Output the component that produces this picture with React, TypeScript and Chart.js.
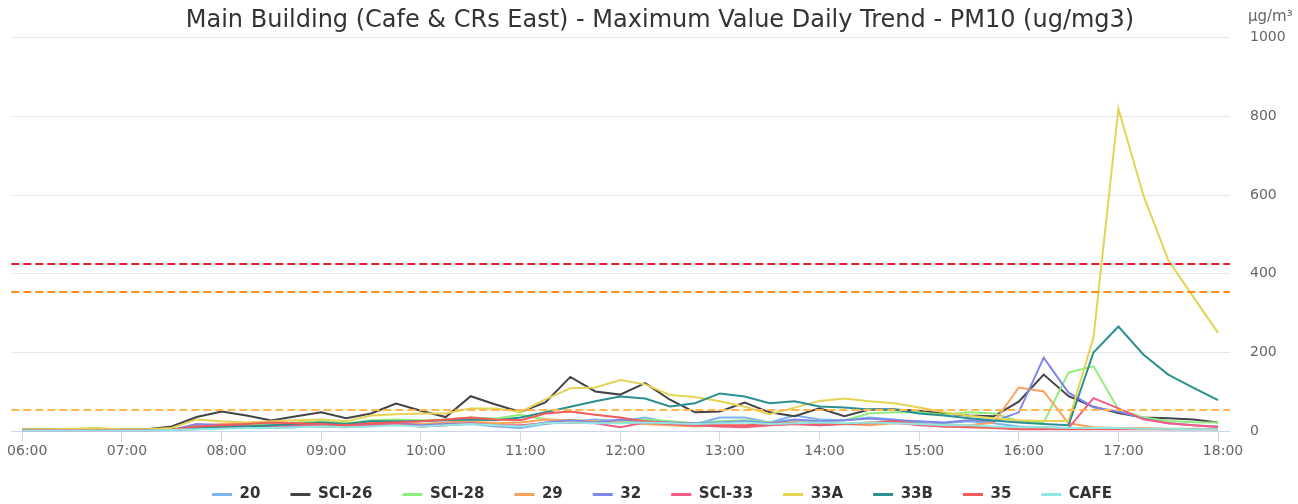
import React, { useEffect, useRef } from 'react';
import { Chart, registerables } from 'chart.js';

Chart.register(...registerables);

const TITLE = 'Main Building (Cafe & CRs East) - Maximum Value Daily Trend - PM10 (ug/mg3)';
const UNIT = 'μg/m³';

const times = [
  '06:00', '06:15', '06:30', '06:45', '07:00', '07:15', '07:30', '07:45',
  '08:00', '08:15', '08:30', '08:45', '09:00', '09:15', '09:30', '09:45',
  '10:00', '10:15', '10:30', '10:45', '11:00', '11:15', '11:30', '11:45',
  '12:00', '12:15', '12:30', '12:45', '13:00', '13:15', '13:30', '13:45',
  '14:00', '14:15', '14:30', '14:45', '15:00', '15:15', '15:30', '15:45',
  '16:00', '16:15', '16:30', '16:45', '17:00', '17:15', '17:30', '17:45',
  '18:00',
];

const hourTickIndex = [0, 4, 8, 12, 16, 20, 24, 28, 32, 36, 40, 44, 48];
const yTicks = [0, 200, 400, 600, 800, 1000];

const seriesNames = ['20', 'SCI-26', 'SCI-28', '29', '32', 'SCI-33', '33A', '33B', '35', 'CAFE'];
const seriesColors = ['#7cb5ec', '#434348', '#90ed7d', '#f7a35c', '#8085e9', '#f15c80', '#e4d354', '#2b908f', '#f45b5b', '#91e8e1'];

const s20 = [2, 2, 2, 2, 2, 2, 3, 5, 8, 10, 8, 10, 15, 12, 15, 18, 12, 15, 18, 12, 8, 18, 25, 30, 25, 35, 22, 18, 35, 35, 22, 40, 30, 28, 35, 30, 22, 20, 25, 20, 12, 10, 8, 8, 8, 6, 5, 5, 5];
const sSCI26 = [5, 5, 5, 5, 5, 5, 12, 36, 50, 40, 27, 38, 48, 33, 45, 70, 52, 36, 89, 68, 49, 73, 138, 101, 93, 122, 80, 48, 50, 73, 48, 38, 58, 38, 55, 55, 52, 45, 40, 38, 75, 144, 89, 62, 46, 35, 33, 30, 22];
const sSCI28 = [3, 3, 3, 3, 3, 3, 4, 10, 15, 15, 18, 22, 25, 20, 28, 30, 28, 30, 35, 32, 42, 30, 28, 25, 22, 30, 25, 20, 25, 28, 22, 28, 25, 28, 45, 48, 48, 42, 48, 45, 26, 22, 149, 165, 56, 35, 26, 23, 22];
const s29 = [3, 3, 3, 3, 3, 3, 4, 15, 18, 20, 22, 20, 18, 15, 20, 22, 18, 22, 25, 20, 22, 30, 28, 25, 22, 18, 15, 12, 15, 12, 15, 18, 15, 18, 15, 20, 18, 15, 15, 22, 111, 101, 20, 10, 8, 8, 6, 6, 5];
const s32 = [2, 2, 2, 2, 2, 2, 3, 18, 15, 12, 10, 12, 18, 15, 18, 20, 15, 18, 20, 15, 12, 22, 28, 22, 30, 25, 22, 20, 22, 25, 20, 30, 25, 28, 32, 28, 25, 22, 28, 25, 48, 187, 98, 61, 50, 32, 20, 15, 12];
const sSCI33 = [2, 2, 2, 2, 2, 2, 3, 8, 10, 12, 10, 15, 12, 10, 15, 18, 12, 15, 20, 15, 15, 20, 22, 20, 10, 22, 18, 15, 12, 10, 15, 18, 15, 18, 20, 22, 15, 12, 12, 10, 8, 8, 8, 84, 58, 30, 20, 15, 10];
const s33A = [5, 5, 6, 8, 5, 5, 8, 30, 25, 22, 25, 28, 30, 25, 40, 43, 45, 45, 58, 58, 49, 81, 109, 111, 130, 119, 92, 87, 76, 62, 43, 60, 77, 83, 76, 71, 60, 48, 39, 33, 28, 26, 26, 238, 820, 600, 435, 342, 250];
const s33B = [3, 3, 3, 3, 3, 3, 4, 8, 12, 12, 15, 18, 22, 18, 25, 25, 25, 28, 30, 28, 35, 48, 62, 76, 88, 83, 63, 71, 96, 88, 71, 76, 63, 60, 55, 55, 45, 40, 33, 27, 22, 18, 15, 200, 266, 195, 144, 111, 79];
const s35 = [3, 3, 3, 3, 3, 3, 4, 12, 15, 18, 22, 20, 18, 15, 20, 22, 25, 30, 35, 30, 28, 45, 50, 42, 35, 25, 20, 18, 15, 15, 18, 22, 20, 18, 22, 25, 18, 12, 10, 8, 5, 5, 5, 5, 5, 5, 5, 5, 5];
const sCAFE = [2, 2, 2, 2, 2, 2, 3, 5, 6, 8, 8, 10, 12, 10, 12, 15, 12, 15, 18, 15, 12, 20, 22, 20, 20, 22, 20, 18, 20, 22, 18, 20, 22, 20, 22, 20, 18, 15, 15, 12, 10, 10, 8, 8, 8, 6, 6, 5, 5];

const seriesValues = [s20, sSCI26, sSCI28, s29, s32, sSCI33, s33A, s33B, s35, sCAFE];

const thresholdValues = [54, 354, 424];
const thresholdColors = ['#ffb84d', '#ff8c1a', '#e0202a'];

const FONT = '"DejaVu Sans", sans-serif';

const overlayPlugin = {
  id: 'overlay',
  afterLayout(chart: any) {
    if (chart.titleBlock) {
      chart.titleBlock.left += 6;
      chart.titleBlock.right += 6;
    }
    if (chart.legend) {
      chart.legend.left += 8;
      chart.legend.right += 8;
      chart.legend.top -= 5;
      chart.legend.bottom -= 5;
    }
  },
  afterDatasetsDraw(chart: any) {
    const { ctx, chartArea, scales } = chart;
    const y = scales.y;
    ctx.save();
    ctx.lineWidth = 2;
    ctx.setLineDash([8, 4]);
    thresholdValues.forEach((v, i) => {
      const py = Math.round(y.getPixelForValue(v));
      ctx.strokeStyle = thresholdColors[i];
      ctx.beginPath();
      ctx.moveTo(chartArea.left, py);
      ctx.lineTo(chartArea.right, py);
      ctx.stroke();
    });
    ctx.setLineDash([]);
    ctx.font = '15px ' + FONT;
    ctx.fillStyle = '#666666';
    ctx.textAlign = 'left';
    ctx.textBaseline = 'middle';
    ctx.fillText(UNIT, chartArea.right + 18, chartArea.top - 21);
    ctx.restore();
  },
};

export default function App() {
  const ref = useRef<HTMLCanvasElement | null>(null);

  useEffect(() => {
    document.body.style.margin = '0';
    const canvas = ref.current;
    if (!canvas) return;
    Chart.defaults.font.family = FONT;

    const datasets = seriesNames.map((name, i) => ({
      label: name,
      data: seriesValues[i].map((v, j) => ({ x: j, y: v })),
      borderColor: seriesColors[i],
      backgroundColor: seriesColors[i],
      borderWidth: 2,
      pointRadius: 0,
      pointHoverRadius: 0,
      tension: 0,
      fill: false,
      order: seriesNames.length - i,
    }));

    const chart = new Chart(canvas, {
      type: 'line',
      data: { datasets },
      plugins: [overlayPlugin],
      options: {
        responsive: false,
        animation: false,
        layout: { padding: { left: 10, right: 0, top: 0, bottom: -13 } },
        plugins: {
          title: {
            display: true,
            text: TITLE,
            color: '#333333',
            font: { size: 24, weight: 'normal', family: FONT, lineHeight: 1.2 },
            padding: { top: 6, bottom: 3 },
          },
          legend: {
            display: true,
            position: 'bottom',
            labels: {
              boxWidth: 20,
              boxHeight: 3,
              padding: 30,
              color: '#333333',
              font: { size: 15, weight: 'bold', family: FONT },
              sort: (a: any, b: any) => a.datasetIndex - b.datasetIndex,
              generateLabels: (c: any) =>
                Chart.defaults.plugins.legend.labels
                  .generateLabels(c)
                  .map((l: any) => ({ ...l, lineWidth: 0 })),
            },
          },
          tooltip: { enabled: false },
        },
        scales: {
          x: {
            type: 'linear',
            min: -0.44,
            max: 48.48,
            afterBuildTicks: (axis: any) => {
              axis.ticks = hourTickIndex.map((v) => ({ value: v }));
            },
            grid: {
              drawOnChartArea: false,
              drawTicks: true,
              tickLength: 10,
              color: '#ccd6eb',
            },
            border: { display: true, color: '#ccd6eb' },
            ticks: {
              autoSkip: false,
              maxRotation: 0,
              padding: 2,
              labelOffset: 5,
              color: '#666666',
              font: { size: 14, family: FONT },
              callback: (value: any) => times[Number(value)] ?? '',
            },
          },
          y: {
            position: 'right',
            min: 0,
            max: 1000,
            afterBuildTicks: (axis: any) => {
              axis.ticks = yTicks.map((v) => ({ value: v }));
            },
            afterFit: (axis: any) => {
              axis.width = 68;
            },
            grid: { color: '#e6e6e6', drawTicks: false },
            border: { display: false },
            ticks: {
              padding: 20,
              color: '#666666',
              font: { size: 14, family: FONT },
              callback: (value: any) => String(value),
            },
          },
        },
      } as any,
    });

    return () => chart.destroy();
  }, []);

  return (
    <div style={{ width: 1298, height: 504 }}>
      <canvas ref={ref} width={1298} height={504} style={{ display: 'block' }} />
    </div>
  );
}
